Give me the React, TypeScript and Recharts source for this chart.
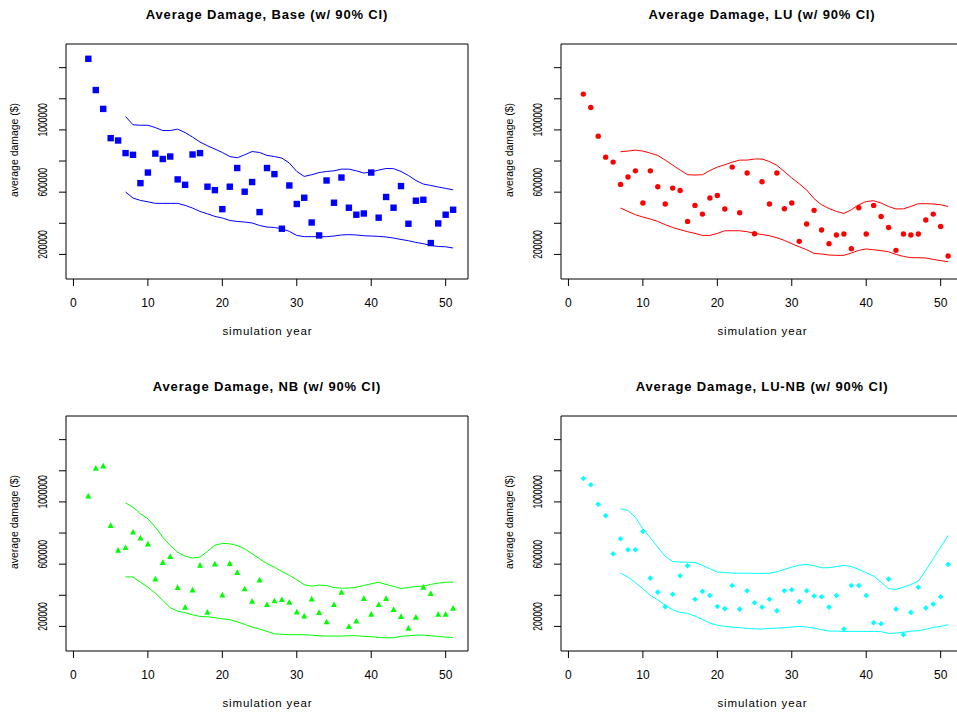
import React from 'react';
import { ComposedChart, XAxis, YAxis, Line, Scatter, ReferenceArea } from 'recharts';

// ---------- data ----------
const pointYears = [2, 3, 4, 5, 6, 7, 8, 9, 10, 11, 12, 13, 14, 15, 16, 17, 18, 19, 20, 21, 22, 23, 24, 25, 26,
  27, 28, 29, 30, 31, 32, 33, 34, 35, 36, 37, 38, 39, 40, 41, 42, 43, 44, 45, 46, 47, 48, 49, 50, 51];
const ciYears = [7, 8, 9, 10, 11, 12, 13, 14, 15, 16, 17, 18, 19, 20, 21, 22, 23, 24, 25, 26,
  27, 28, 29, 30, 31, 32, 33, 34, 35, 36, 37, 38, 39, 40, 41, 42, 43, 44, 45, 46, 47, 48, 49, 50, 51];

const baseValues = [1457000, 1256000, 1135000, 947000, 932000, 851000, 840000, 658000, 726000, 848000,
  813000, 829000, 682000, 647000, 842000, 851000, 635000, 613000, 491000, 635000,
  755000, 603000, 665000, 472000, 755000, 716000, 365000, 643000, 524000, 564000,
  405000, 322000, 675000, 532000, 694000, 500000, 455000, 463000, 726000, 436000,
  569000, 500000, 639000, 397000, 545000, 551000, 273000, 399000, 455000, 487000];
const baseUpper = [1086000, 1033000, 1030000, 1030000, 1015000, 996000, 996000, 1005000, 983000, 954000,
  922000, 898000, 877000, 855000, 829000, 821000, 840000, 861000, 855000, 836000,
  829000, 819000, 787000, 733000, 701000, 712000, 726000, 733000, 737000, 748000,
  748000, 737000, 723000, 729000, 742000, 752000, 751000, 733000, 707000, 675000,
  652000, 643000, 633000, 624000, 615000];
const baseLower = [601000, 562000, 547000, 538000, 528000, 528000, 528000, 528000, 515000, 498000,
  476000, 461000, 444000, 434000, 418000, 412000, 408000, 402000, 386000, 376000,
  373000, 365000, 348000, 322000, 314000, 314000, 314000, 314000, 318000, 325000,
  327000, 325000, 320000, 318000, 316000, 312000, 305000, 296000, 288000, 277000,
  269000, 258000, 251000, 249000, 241000];

const luValues = [1230000, 1144000, 960000, 825000, 793000, 650000, 697000, 737000, 530000, 737000,
  635000, 524000, 626000, 611000, 412000, 515000, 459000, 562000, 579000, 492000,
  761000, 468000, 723000, 333000, 667000, 524000, 723000, 493000, 530000, 284000,
  395000, 483000, 357000, 269000, 325000, 331000, 237000, 500000, 331000, 515000,
  444000, 373000, 226000, 331000, 325000, 331000, 421000, 459000, 380000, 190000];
const luUpper = [860000, 864000, 870000, 864000, 851000, 836000, 806000, 774000, 742000, 712000,
  710000, 712000, 739000, 761000, 776000, 793000, 806000, 806000, 813000, 813000,
  797000, 772000, 733000, 691000, 654000, 614000, 558000, 519000, 495000, 476000,
  463000, 487000, 519000, 540000, 545000, 530000, 508000, 492000, 493000, 508000,
  526000, 526000, 524000, 519000, 508000];
const luLower = [498000, 476000, 455000, 440000, 427000, 412000, 391000, 373000, 359000, 346000,
  335000, 322000, 322000, 335000, 352000, 352000, 352000, 346000, 335000, 328000,
  320000, 307000, 290000, 269000, 249000, 230000, 206000, 203000, 196000, 194000,
  194000, 209000, 226000, 235000, 230000, 224000, 217000, 200000, 187000, 179000,
  179000, 177000, 168000, 160000, 153000];

const nbValues = [1037000, 1215000, 1229000, 847000, 688000, 705000, 806000, 767000, 729000, 504000,
  609000, 648000, 449000, 322000, 433000, 592000, 290000, 600000, 401000, 603000,
  545000, 440000, 361000, 497000, 339000, 363000, 371000, 354000, 292000, 266000,
  375000, 288000, 228000, 339000, 418000, 198000, 234000, 378000, 277000, 339000,
  378000, 307000, 262000, 187000, 258000, 450000, 410000, 277000, 277000, 316000];
const nbUpper = [994000, 966000, 924000, 892000, 838000, 773000, 720000, 677000, 651000, 639000,
  645000, 682000, 722000, 733000, 731000, 720000, 699000, 667000, 635000, 603000,
  581000, 553000, 528000, 500000, 468000, 459000, 465000, 463000, 449000, 446000,
  446000, 452000, 463000, 474000, 484000, 470000, 457000, 444000, 449000, 457000,
  459000, 470000, 478000, 484000, 484000];
const nbLower = [519000, 517000, 484000, 452000, 414000, 367000, 320000, 298000, 288000, 275000,
  264000, 262000, 256000, 249000, 243000, 230000, 213000, 196000, 183000, 168000,
  153000, 149000, 147000, 147000, 147000, 144000, 140000, 138000, 138000, 138000,
  140000, 140000, 136000, 134000, 129000, 127000, 127000, 136000, 140000, 144000,
  144000, 140000, 136000, 131000, 129000];

const luNbValues = [1150000, 1110000, 985000, 911000, 667000, 763000, 693000, 693000, 810000, 510000,
  420000, 327000, 407000, 526000, 590000, 375000, 425000, 399000, 328000, 314000,
  463000, 311000, 429000, 352000, 324000, 375000, 301000, 429000, 436000, 359000,
  429000, 395000, 391000, 324000, 399000, 183000, 463000, 463000, 399000, 224000,
  217000, 504000, 311000, 147000, 290000, 452000, 318000, 343000, 391000, 598000];
const luNbUpper = [956000, 945000, 902000, 827000, 770000, 709000, 650000, 617000, 613000, 613000,
  611000, 592000, 571000, 549000, 547000, 542000, 542000, 542000, 540000, 541000,
  542000, 551000, 566000, 581000, 594000, 598000, 590000, 577000, 577000, 585000,
  592000, 585000, 566000, 545000, 523000, 484000, 442000, 438000, 452000, 470000,
  491000, 560000, 635000, 709000, 784000];
const luNbLower = [542000, 517000, 481000, 442000, 399000, 371000, 335000, 307000, 290000, 284000,
  266000, 245000, 221000, 208000, 200000, 196000, 192000, 187000, 185000, 183000,
  187000, 189000, 192000, 196000, 200000, 196000, 189000, 179000, 170000, 170000,
  168000, 168000, 168000, 168000, 168000, 166000, 155000, 157000, 163000, 170000,
  172000, 181000, 194000, 200000, 211000];

const xTicks = [0, 10, 20, 30, 40, 50];
const yTicks = [200000, 400000, 600000, 800000, 1000000, 1200000, 1400000];
const yLabeledTicks = [200000, 600000, 1000000];

const titles = [
  'Average Damage, Base (w/ 90% CI)',
  'Average Damage, LU (w/ 90% CI)',
  'Average Damage, NB (w/ 90% CI)',
  'Average Damage, LU-NB (w/ 90% CI)',
];
const xLabel = 'simulation year';
const yLabel = 'average damage ($)';

// ---------- layout / style ----------
const X_DOMAIN: [number, number] = [-1, 53];
const Y_DOMAIN: [number, number] = [42000, 1552000];
const FONT = "'Liberation Sans', Arial, sans-serif";

const toPoints = (years: number[], values: number[]) => years.map((year, i) => ({ year, v: values[i] }));

type Kind = 'square' | 'circle' | 'triangle' | 'diamond';

function renderMarker(kind: Kind, color: string) {
  return (p: any) => {
    const { cx, cy } = p;
    if (cx == null || cy == null) return <g />;
    if (kind === 'square') return <rect x={cx - 3.2} y={cy - 3.2} width={6.4} height={6.4} fill={color} />;
    if (kind === 'circle') return <circle cx={cx} cy={cy} r={2.7} fill={color} />;
    if (kind === 'triangle')
      return <polygon points={`${cx},${cy - 3.4} ${cx + 3},${cy + 2.3} ${cx - 3},${cy + 2.3}`} fill={color} />;
    return <polygon points={`${cx},${cy - 2.8} ${cx + 2.8},${cy} ${cx},${cy + 2.8} ${cx - 2.8},${cy}`} fill={color} />;
  };
}

const XTick = (props: any) => {
  const { x, y, payload } = props;
  return (
    <text x={x} y={y + 20.7} textAnchor="middle" fontSize={12} fontFamily={FONT} fill="#000">
      {payload.value}
    </text>
  );
};

const YTick = (props: any) => {
  const { x, y, payload } = props;
  if (!yLabeledTicks.includes(payload.value)) return <g />;
  const s = String(payload.value);
  const bx = x - 12;
  const by = y - 10;
  return (
    <text
      x={bx}
      y={by}
      transform={`rotate(-90 ${bx} ${by})`}
      textAnchor="middle"
      fontSize={12}
      fontFamily={FONT}
      fill="#000"
      textLength={s.length * 4.75}
      lengthAdjust="spacingAndGlyphs"
    >
      {s}
    </text>
  );
};

const XTitle = (props: any) => {
  const vb = props.viewBox || { x: 66, y: 279, width: 402 };
  const cx = vb.x + vb.width / 2;
  return (
    <text x={cx} y={vb.y + 56} textAnchor="middle" fontSize={11.5} fontFamily={FONT} fill="#000"
      textLength={89} lengthAdjust="spacing">
      {xLabel}
    </text>
  );
};

const YTitle = (props: any) => {
  const vb = props.viewBox || { x: 0, y: 44, width: 66, height: 235 };
  const bx = 18.3;
  const by = vb.y + vb.height / 2 - 11.5;
  return (
    <text x={bx} y={by} transform={`rotate(-90 ${bx} ${by})`} textAnchor="middle" fontSize={11.5}
      fontFamily={FONT} fill="#000" textLength={94} lengthAdjust="spacingAndGlyphs">
      {yLabel}
    </text>
  );
};

interface PanelProps {
  title: string;
  values: number[];
  upper: number[];
  lower: number[];
  color: string;
  kind: Kind;
  left: number;
  top: number;
}

function Panel({ title, values, upper, lower, color, kind, left, top }: PanelProps) {
  const pts = toPoints(pointYears, values);
  const up = toPoints(ciYears, upper);
  const lo = toPoints(ciYears, lower);
  return (
    <div style={{ position: 'absolute', left, top, width: 480, height: 360 }}>
      <div
        style={{
          position: 'absolute',
          left: 66,
          top: 7,
          width: 402,
          textAlign: 'center',
          fontFamily: FONT,
          fontWeight: 'bold',
          fontSize: 13,
          letterSpacing: '0.84px',
          lineHeight: '16px',
          whiteSpace: 'nowrap',
          color: '#000',
        }}
      >
        {title}
      </div>
      <ComposedChart width={480} height={360} margin={{ top: 44, right: 12, bottom: 0, left: 0 }}>
        <XAxis
          type="number"
          dataKey="year"
          domain={X_DOMAIN}
          ticks={xTicks}
          interval={0}
          allowDataOverflow
          height={81}
          tickSize={7}
          tickMargin={0}
          axisLine={false}
          tickLine={{ stroke: '#000', strokeWidth: 1 }}
          tick={XTick}
          label={{ content: XTitle }}
        />
        <YAxis
          type="number"
          domain={Y_DOMAIN}
          ticks={yTicks}
          interval={0}
          allowDataOverflow
          width={66}
          tickSize={7}
          tickMargin={0}
          axisLine={false}
          tickLine={{ stroke: '#000', strokeWidth: 1 }}
          tick={YTick}
          label={{ content: YTitle }}
        />
        <ReferenceArea x1={X_DOMAIN[0]} x2={X_DOMAIN[1]} y1={Y_DOMAIN[0]} y2={Y_DOMAIN[1]}
          fill="none" fillOpacity={0} stroke="#000" strokeWidth={1} ifOverflow="visible" />
        <Line data={up} dataKey="v" type="linear" stroke={color} strokeWidth={1} dot={false}
          activeDot={false} isAnimationActive={false} />
        <Line data={lo} dataKey="v" type="linear" stroke={color} strokeWidth={1} dot={false}
          activeDot={false} isAnimationActive={false} />
        <Scatter data={pts} dataKey="v" isAnimationActive={false} shape={renderMarker(kind, color)} />
      </ComposedChart>
    </div>
  );
}

export default function App() {
  return (
    <div
      style={{
        position: 'fixed',
        left: 0,
        top: 0,
        width: 957,
        height: 716,
        overflow: 'hidden',
        background: '#fff',
        fontFamily: FONT,
      }}
    >
      <Panel title={titles[0]} values={baseValues} upper={baseUpper} lower={baseLower} color="#0000FF" kind="square" left={0} top={0} />
      <Panel title={titles[1]} values={luValues} upper={luUpper} lower={luLower} color="#FF0000" kind="circle" left={495} top={0} />
      <Panel title={titles[2]} values={nbValues} upper={nbUpper} lower={nbLower} color="#00FF00" kind="triangle" left={0} top={372} />
      <Panel title={titles[3]} values={luNbValues} upper={luNbUpper} lower={luNbLower} color="#00FFFF" kind="diamond" left={495} top={372} />
    </div>
  );
}
